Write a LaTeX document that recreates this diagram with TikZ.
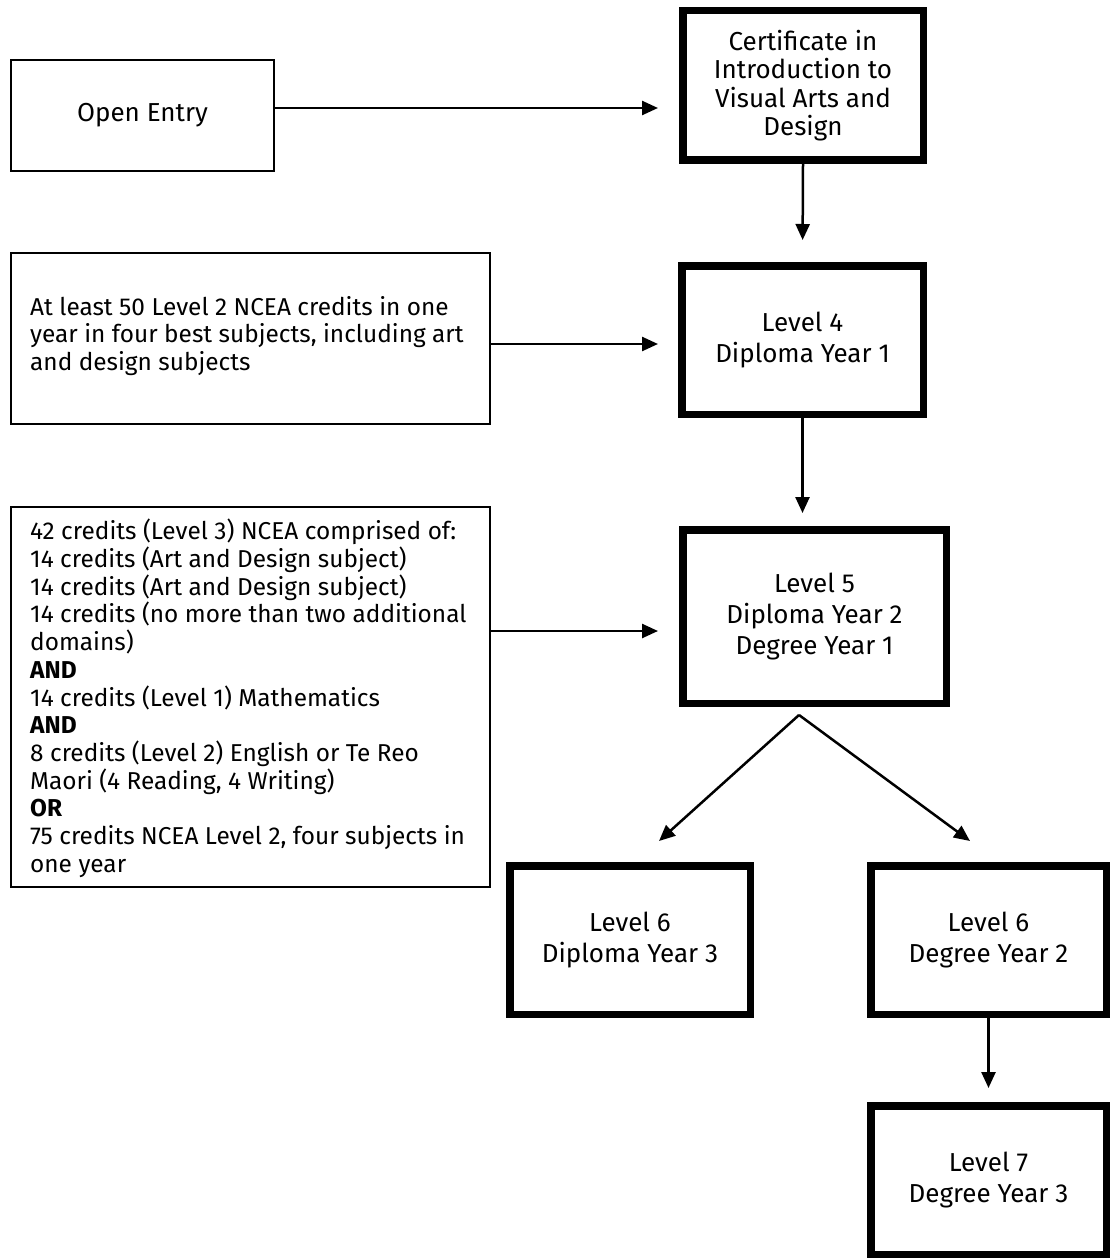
\documentclass[tikz,border=0pt]{standalone}
\usepackage{fontspec}
\setmainfont{Fira Sans}
\usetikzlibrary{arrows.meta}
\begin{document}
\begin{tikzpicture}[x=1pt,y=-1pt,
  ctxt/.style={font=\fontsize{26}{31}\selectfont, align=center},
  thickbox/.style={draw, line width=7.5pt, inner sep=0pt, ctxt},
  thinbox/.style={draw, line width=1.8pt, inner sep=0pt},
  arr/.style={-{Triangle[length=16pt,width=14pt]}, line width=2.5pt},
  lefttext/.style={inner sep=0pt, align=left, font=\fontsize{24.4}{27.7}\selectfont}
]
\useasboundingbox[fill=white] (0,0) rectangle (1113,1260);

% thick boxes
\node[thickbox, minimum width=240.5pt, minimum height=149.5pt,
      font=\fontsize{26}{28.3}\selectfont] (cert) at (803,85.5)
  {Certificate in\\Introduction to\\Visual Arts and\\Design};
\node[thickbox, minimum width=241.5pt, minimum height=148.5pt] (l4) at (802.5,340)
  {Level 4\\Diploma Year 1};
\node[thickbox, minimum width=263.5pt, minimum height=173.5pt] (l5) at (814.5,616.5)
  {Level 5\\Diploma Year 2\\Degree Year 1};
\node[thickbox, minimum width=240.5pt, minimum height=148.5pt] (l6dip) at (630,940)
  {Level 6\\Diploma Year 3};
\node[thickbox, minimum width=235.5pt, minimum height=148.5pt] (l6deg) at (988.5,940)
  {Level 6\\Degree Year 2};
\node[thickbox, minimum width=235.5pt, minimum height=148.5pt] (l7) at (988.5,1180)
  {Level 7\\Degree Year 3};

% thin boxes
\node[thinbox, ctxt, minimum width=263.5pt, minimum height=111.5pt] (open) at (142.5,115.5)
  {Open Entry};
\node[thinbox, minimum width=479.5pt, minimum height=171.5pt] (ncea2) at (250.5,338.5) {};
\node[lefttext, anchor=west] (ncea2t) at (30,336)
  {At least 50 Level 2 NCEA credits in one\\year in four best subjects, including art\\and design subjects};
\node[thinbox, minimum width=479.5pt, minimum height=380.5pt] (ncea3) at (250.5,697) {};
\node[lefttext, anchor=north west] (ncea3t) at (30,519)
  {42 credits (Level 3) NCEA comprised of:\\
   14 credits (Art and Design subject)\\
   14 credits (Art and Design subject)\\
   14 credits (no more than two additional\\
   domains)\\
   \textbf{AND}\\
   14 credits (Level 1) Mathematics\\
   \textbf{AND}\\
   8 credits (Level 2) English or Te Reo\\
   Maori (4 Reading, 4 Writing)\\
   \textbf{OR}\\
   75 credits NCEA Level 2, four subjects in\\
   one year};

% connectors
\draw[arr, shorten >=21pt] (open.east |- 0,108) -- (cert.west |- 0,108);
\draw[arr, shorten >=20pt] (ncea2.east |- 0,344) -- (l4.west |- 0,344);
\draw[arr, shorten >=21pt] (ncea3.east |- 0,631) -- (l5.west |- 0,631);
\draw[arr, shorten >=22pt] (cert.south) -- (l4.north);
\draw[arr, shorten >=13pt] (l4.south) -- (l4.south |- l5.north);
\coordinate (apex) at ([shift={(-15.5,8)}]l5.south);
\coordinate (tipdip) at ([shift={(29,-21)}]l6dip.north);
\coordinate (tipdeg) at ([shift={(-18.5,-21)}]l6deg.north);
\draw[arr] (apex) -- (tipdip);
\draw[arr] (apex) -- (tipdeg);
\draw[arr, shorten >=14pt] (l6deg.south) -- (l7.north);
\end{tikzpicture}
\end{document}
